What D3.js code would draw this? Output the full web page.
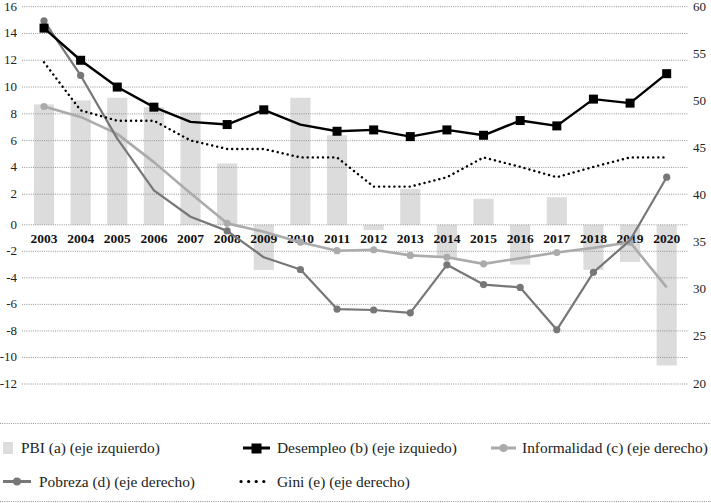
<!DOCTYPE html>
<html>
<head>
<meta charset="utf-8">
<script src="https://cdn.jsdelivr.net/npm/d3@7"></script>
<style>
  body { margin: 0; background: #fff; }
  svg text { font-family: "Liberation Serif", "Times New Roman", serif; }
</style>
</head>
<body>
<svg id="chart" width="711" height="503"></svg>
<script>
// years on the x axis
var years = ["2003","2004","2005","2006","2007","2008","2009","2010","2011",
             "2012","2013","2014","2015","2016","2017","2018","2019","2020"];

// left axis series
var pbi       = [8.7, 9.0, 9.2, 8.5, 8.1, 4.3, -3.4, 9.2, 6.4, -0.4, 2.4, -2.5, 1.7, -3.0, 1.8, -3.4, -2.8, -10.6];
var desempleo = [14.4, 12.0, 10.0, 8.5, 7.4, 7.2, 8.3, 7.2, 6.7, 6.8, 6.3, 6.8, 6.4, 7.5, 7.1, 9.1, 8.8, 11.0];

// right axis series
var informalidad = [49.4, 48.3, 46.5, 43.5, 40.2, 37.0, 36.1, 35.0, 34.1, 34.2, 33.6, 33.4, 32.7, 33.3, 33.9, 34.4, 35.0, 30.2];
var pobreza      = [58.5, 52.7, 46.0, 40.5, 37.7, 36.2, 33.4, 32.1, 27.9, 27.8, 27.5, 32.6, 30.5, 30.2, 25.7, 31.8, 35.2, 41.9];
var gini         = [54.1, 49.0, 47.9, 47.9, 45.8, 44.9, 44.9, 44.0, 44.0, 40.9, 40.9, 41.9, 44.0, 43.0, 41.9, 43.0, 44.0, 44.0];

// years that carry a marker in the source figure
var desempleoMarks    = ["2003","2004","2005","2006","2008","2009","2011","2012","2013","2014","2015","2016","2017","2018","2019","2020"];
var informalidadMarks = ["2003","2008","2010","2011","2012","2013","2014","2015","2017","2019"];
var pobrezaMarks      = ["2003","2004","2008","2010","2011","2012","2013","2014","2015","2016","2017","2018","2020"];

var leftTicks  = [16, 14, 12, 10, 8, 6, 4, 2, 0, -2, -4, -6, -8, -10, -12];
var rightTicks = [60, 55, 50, 45, 40, 35, 30, 25, 20];

var svg = d3.select("#chart");

var x = d3.scaleBand().domain(years).range([25.7, 685])
    .paddingInner(0.45).paddingOuter(0.225);
// the category labels sit between 2 and 0, so the left axis has a wider gap there
var yL = d3.scaleLinear().domain([-12, 0, 2, 16]).range([384, 224.8, 194.2, 6.7]);
var yR = d3.scaleLinear().domain([20, 60]).range([383.5, 6.7]);

function cx(d, i) { return x(years[i]) + x.bandwidth() / 2; }

// bars (PBI)
svg.append("g").selectAll("rect")
    .data(pbi)
    .enter().append("rect")
    .attr("x", function(d, i) { return x(years[i]); })
    .attr("width", x.bandwidth())
    .attr("y", function(d) { return yL(Math.max(0, d)); })
    .attr("height", function(d) { return Math.abs(yL(d) - yL(0)); })
    .style("fill", "#dcdcdc");

// gridlines over the bars
svg.append("g").selectAll("line")
    .data(leftTicks)
    .enter().append("line")
    .attr("x1", 22).attr("x2", 688)
    .attr("y1", function(d) { return yL(d); })
    .attr("y2", function(d) { return yL(d); })
    .style("stroke", "#8a8a8a").style("stroke-width", 0.9)
    .style("stroke-dasharray", "1,1.2");

// left axis labels
svg.append("g").selectAll("text")
    .data(leftTicks)
    .enter().append("text")
    .attr("x", 17).attr("y", function(d) { return yL(d) + 4; })
    .attr("text-anchor", "end")
    .style("font-size", "13px").style("fill", "#222")
    .text(function(d) { return d; });

// right axis labels
svg.append("g").selectAll("text")
    .data(rightTicks)
    .enter().append("text")
    .attr("x", 693).attr("y", function(d) { return yR(d) + 4; })
    .style("font-size", "13px").style("fill", "#222")
    .text(function(d) { return d; });

// year labels
svg.append("g").selectAll("text")
    .data(years)
    .enter().append("text")
    .attr("x", function(d) { return x(d) + x.bandwidth() / 2; })
    .attr("y", 243)
    .attr("text-anchor", "middle")
    .style("font-size", "13.5px").style("font-weight", "bold").style("fill", "#111")
    .text(function(d) { return d; });

function drawLine(values, scale, color, width, dash) {
    var line = d3.line().x(cx).y(function(d) { return scale(d); });
    var p = svg.append("path").datum(values)
        .attr("d", line)
        .style("fill", "none")
        .style("stroke", color)
        .style("stroke-width", width)
        .style("stroke-linejoin", "round");
    if (dash) p.style("stroke-dasharray", dash).style("stroke-linecap", "round");
}

function marked(values, marks) {
    return values.map(function(v, i) { return { v: v, i: i }; })
        .filter(function(d) { return marks.indexOf(years[d.i]) >= 0; });
}

function drawDots(values, marks, scale, color, r) {
    svg.append("g").selectAll("circle")
        .data(marked(values, marks))
        .enter().append("circle")
        .attr("cx", function(d) { return cx(d.v, d.i); })
        .attr("cy", function(d) { return scale(d.v); })
        .attr("r", r)
        .style("fill", color);
}

drawLine(informalidad, yR, "#ababab", 2.6);
drawDots(informalidad, informalidadMarks, yR, "#ababab", 3.6);

drawLine(pobreza, yR, "#777777", 2.2);
drawDots(pobreza, pobrezaMarks, yR, "#777777", 3.6);

drawLine(gini, yR, "#000", 2.4, "0.1,5");

drawLine(desempleo, yL, "#000", 2.4);
svg.append("g").selectAll("rect")
    .data(marked(desempleo, desempleoMarks))
    .enter().append("rect")
    .attr("x", function(d) { return cx(d.v, d.i) - 4.5; })
    .attr("y", function(d) { return yL(d.v) - 4.5; })
    .attr("width", 9).attr("height", 9)
    .style("fill", "#000");

// legend borders
svg.selectAll(".lb")
    .data([423.5, 501.5])
    .enter().append("line")
    .attr("x1", 0).attr("x2", 711)
    .attr("y1", function(d) { return d; }).attr("y2", function(d) { return d; })
    .style("stroke", "#8a8a8a").style("stroke-width", 0.9)
    .style("stroke-dasharray", "1,1.2");

var legend = svg.append("g").style("font-size", "15.4px").style("fill", "#222");

legend.append("rect").attr("x", 3).attr("y", 442).attr("width", 10).attr("height", 12).style("fill", "#dcdcdc");
legend.append("text").attr("x", 21).attr("y", 453).text("PBI (a) (eje izquierdo)");

legend.append("line").attr("x1", 243).attr("x2", 270).attr("y1", 448).attr("y2", 448)
    .style("stroke", "#000").style("stroke-width", 3);
legend.append("rect").attr("x", 251.5).attr("y", 443.5).attr("width", 10).attr("height", 10).style("fill", "#000");
legend.append("text").attr("x", 277).attr("y", 453).text("Desempleo (b) (eje izquiedo)");

legend.append("line").attr("x1", 491).attr("x2", 516).attr("y1", 448).attr("y2", 448)
    .style("stroke", "#ababab").style("stroke-width", 3);
legend.append("circle").attr("cx", 503.5).attr("cy", 448).attr("r", 4).style("fill", "#ababab");
legend.append("text").attr("x", 522).attr("y", 453).text("Informalidad (c) (eje derecho)");

legend.append("line").attr("x1", 3).attr("x2", 31).attr("y1", 481.5).attr("y2", 481.5)
    .style("stroke", "#777777").style("stroke-width", 3);
legend.append("circle").attr("cx", 17).attr("cy", 481.5).attr("r", 4).style("fill", "#777777");
legend.append("text").attr("x", 39).attr("y", 486.5).text("Pobreza (d) (eje derecho)");

legend.append("line").attr("x1", 241).attr("x2", 268).attr("y1", 481.5).attr("y2", 481.5)
    .style("stroke", "#000").style("stroke-width", 3.2)
    .style("stroke-dasharray", "0.1,7.5").style("stroke-linecap", "round");
legend.append("text").attr("x", 277).attr("y", 486.5).text("Gini (e) (eje derecho)");
</script>
</body>
</html>
